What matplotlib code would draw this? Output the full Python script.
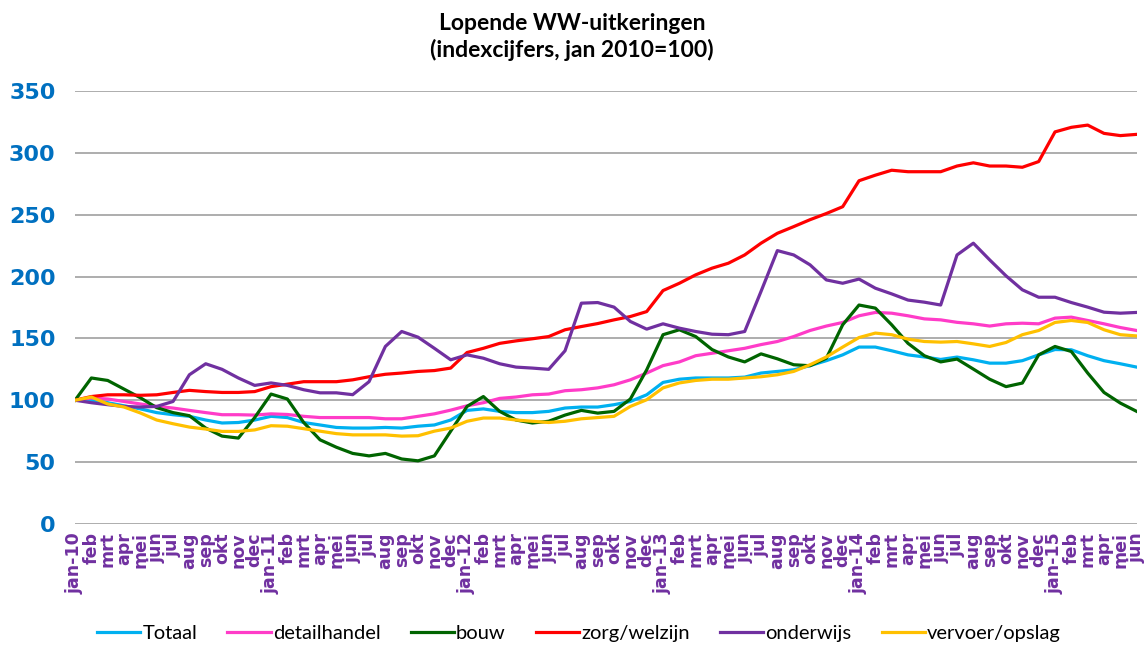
import matplotlib.pyplot as plt
import numpy as np

months = ['feb', 'mrt', 'apr', 'mei', 'jun', 'jul', 'aug', 'sep', 'okt', 'nov', 'dec']
labels = []
for yr in range(10, 16):
    labels.append('jan-%d' % yr)
    labels.extend(months)
labels = labels[:66]

totaal = [100, 100, 98, 95.5, 93, 90, 88.3, 87, 84, 81.6, 82, 84,
          87, 86, 82, 80, 78, 77.5, 77.5, 78, 77.5, 79, 80, 84,
          91.8, 93, 91, 90, 90, 91, 93.7, 94.5, 94.5, 96.4, 99, 104.4,
          114.4, 117, 118, 118, 118, 118.7, 122, 123.3, 124.6, 128, 132, 136.7,
          143, 143, 140, 136.7, 135, 133, 134.9, 132.7, 130, 130, 132, 136.7,
          141, 140.8, 136, 132, 129.5, 126.8]
detailhandel = [100, 101.8, 101, 99, 97, 95, 93.7, 91.8, 90, 88.3, 88.3, 88,
                89, 88.5, 87, 86, 86, 86, 86, 85, 85, 87, 89, 92,
                95.5, 98, 101.5, 102.6, 104.4, 105, 107.7, 108.5, 110, 112.5, 116.5, 122,
                128, 131, 136, 138, 140, 142, 145, 147.5, 151.5, 156.4, 160, 162.9,
                168.3, 171, 170.4, 168.3, 165.8, 165, 163, 161.8, 160, 161.8, 162.3, 161.8,
                166.4, 167.2, 164.5, 161.8, 158.8, 156.4]
bouw = [100, 118, 116, 109, 102, 94, 90, 87.5, 77.5, 71, 69.4, 86,
        105, 101, 82, 68, 62, 57, 55, 57, 52.5, 51, 55, 75,
        95, 103, 91, 84, 81.6, 83, 88, 91.8, 89.6, 91, 101, 124.6,
        153, 157, 151.5, 141, 135, 131, 137.5, 133.5, 128.7, 127.9, 134, 161,
        177, 174.5, 161, 146, 136, 131, 133.3, 125.2, 117, 111, 113.9, 136.7,
        143.5, 139.4, 122, 106.3, 97.7, 91]
zorg = [100, 103, 104.4, 104.4, 104, 104.4, 106.3, 108, 107, 106.3, 106.3, 107,
        111, 113, 115, 115, 115, 116.5, 119, 121, 122, 123.3, 124, 126,
        138.6, 142, 146, 148, 149.7, 151.5, 157, 159.6, 162, 165, 167.7, 171.7,
        188.7, 194.6, 201.4, 206.8, 210.8, 217.5, 227, 235, 240.4, 246, 251, 256.5,
        277.5, 282, 286, 284.8, 284.8, 284.8, 289.4, 292, 289.4, 289.4, 288.4, 293,
        317, 320.7, 322.5, 315.8, 314, 315]
onderwijs = [100, 98, 96.4, 95, 94.5, 95, 99, 120.6, 129.5, 125, 118, 112,
             114, 112, 108.5, 106, 106, 104.5, 115, 143.5, 155.6, 151, 142, 132.7,
             136.7, 134, 129.5, 126.8, 126, 125, 140, 178.5, 179, 175.3, 163.7, 157.5,
             161.8, 158.3, 155.6, 153.4, 153, 155.6, 188, 221, 217.5, 209.5, 197.3, 194.6,
             198, 190.6, 186, 181, 179.3, 177, 217.5, 227, 213.5, 200.6, 189.3, 183.3,
             183.3, 179, 175.3, 171.2, 170.4, 171]
vervoer = [100, 102.6, 97, 94.5, 89.7, 84, 81, 78.3, 76.7, 74.8, 74.8, 76,
           79.4, 79, 77, 75, 73, 72, 72, 72, 71, 71.3, 75, 77.5,
           83, 85.6, 85.6, 84, 83, 82, 83, 85, 86, 87, 95, 100.4,
           110, 114, 116, 117, 117, 118, 119, 120.6, 123.3, 128.7, 135, 143,
           150.7, 154.3, 153, 149.4, 147.5, 147, 147.5, 145.6, 143.5, 146.7, 153, 156.4,
           162.9, 164.5, 162.9, 157, 153, 152]

series = [('Totaal', totaal, '#00B0F0'),
          ('detailhandel', detailhandel, '#FF3CC8'),
          ('bouw', bouw, '#006400'),
          ('zorg/welzijn', zorg, '#FF0000'),
          ('onderwijs', onderwijs, '#7030A0'),
          ('vervoer/opslag', vervoer, '#FFC000')]

fig = plt.figure(figsize=(11.44, 6.46), dpi=100)
ax = fig.add_axes([0.0656, 0.189, 0.928, 0.670])
x = np.arange(len(labels))
for name, vals, col in series:
    ax.plot(x, vals, color=col, linewidth=2.3, label=name)

ax.set_xlim(0, len(labels) - 1)
ax.set_ylim(0, 350)
ax.set_yticks(range(0, 351, 50))
ax.yaxis.grid(True, color='#A0A0A0', linewidth=1.2)
ax.set_axisbelow(True)
for s in ax.spines.values():
    s.set_visible(False)
ax.tick_params(length=0)
ax.set_xticks(x)
# labels overlap a little in the original too
ax.set_xticklabels(labels, rotation=90, fontsize=12.5, fontweight='bold', color='#7030A0')
for t in ax.get_yticklabels():
    t.set_fontsize(16)
    t.set_fontweight('bold')
    t.set_color('#0070C0')
ax.tick_params(axis='y', pad=14)
ax.tick_params(axis='x', pad=6)

fig.text(0.5, 0.98, 'Lopende WW-uitkeringen\n(indexcijfers, jan 2010=100)', ha='center', va='top',
         fontsize=16.5, fontweight='bold', family='Lato', linespacing=1.25)
fig.legend(loc='lower center', bbox_to_anchor=(0.506, -0.022), ncol=6, frameon=False,
           prop={'family': 'Lato', 'size': 14.5}, handlelength=2.15, columnspacing=1.5,
           handletextpad=0.1)

fig.savefig('out.png', dpi=100)
